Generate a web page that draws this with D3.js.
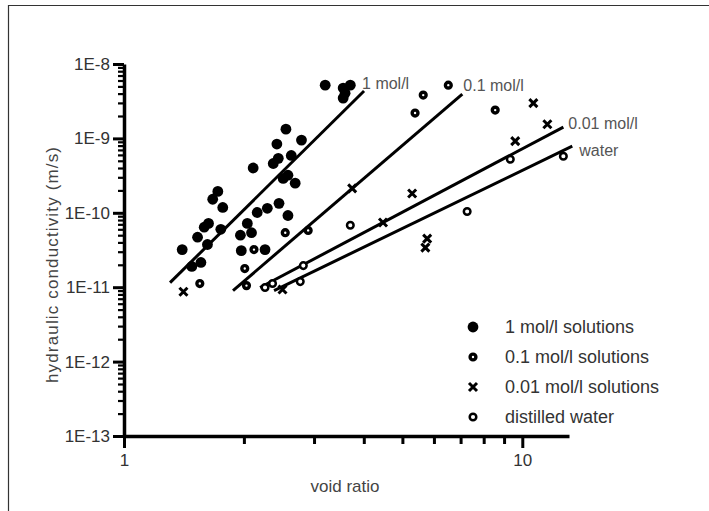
<!DOCTYPE html>
<html><head><meta charset="utf-8">
<script src="https://cdn.jsdelivr.net/npm/d3@7"></script>
<style>body{margin:0;background:#fff}</style>
</head><body><svg id="c" width="709" height="511"></svg>
<script>
// ---------- data (void ratio, hydraulic conductivity m/s) ----------
const xTickValues = [1, 10];
const xTickLabels = ["1", "10"];
const yTickValues = [1e-8, 1e-9, 1e-10, 1e-11, 1e-12, 1e-13];
const yTickLabels = ["1E-8", "1E-9", "1E-10", "1E-11", "1E-12", "1E-13"];
const seriesNames = ["1 mol/l solutions", "0.1 mol/l solutions", "0.01 mol/l solutions", "distilled water"];
const lineLabels = ["1 mol/l", "0.1 mol/l", "0.01 mol/l", "water"];

const mol1 = [
  [1.40, 3.2e-11], [1.48, 1.9e-11], [1.56, 2.15e-11], [1.53, 4.7e-11], [1.59, 6.4e-11],
  [1.63, 7.2e-11], [1.62, 3.75e-11], [1.67, 1.52e-10], [1.72, 1.94e-10], [1.77, 1.18e-10],
  [1.75, 6.0e-11], [1.96, 5.0e-11], [1.97, 3.1e-11], [2.04, 7.2e-11], [2.09, 5.4e-11],
  [2.16, 1.01e-10], [2.26, 3.2e-11], [2.29, 1.15e-10], [2.45, 1.34e-10], [2.58, 9.2e-11],
  [2.11, 4.0e-10], [2.37, 4.6e-10], [2.44, 5.4e-10], [2.42, 8.4e-10], [2.55, 1.33e-9],
  [2.79, 9.5e-10], [2.63, 5.9e-10], [2.51, 2.9e-10], [2.58, 3.2e-10], [2.69, 2.5e-10],
  [3.20, 5.2e-9], [3.55, 4.75e-9], [3.70, 5.2e-9], [3.59, 4.06e-9], [3.55, 3.48e-9]
];
const mol01 = [
  [1.55, 1.12e-11], [2.01, 1.78e-11], [2.03, 1.05e-11], [2.12, 3.2e-11], [2.54, 5.4e-11],
  [2.90, 5.8e-11], [5.38, 2.19e-9], [5.64, 3.82e-9], [6.52, 5.2e-9], [8.55, 2.4e-9]
];
const mol001 = [
  [1.41, 8.7e-12], [2.50, 9.3e-12], [3.74, 2.13e-10], [4.47, 7.4e-11], [5.29, 1.82e-10],
  [5.77, 4.5e-11], [5.71, 3.4e-11], [9.60, 9.2e-10], [10.66, 2.98e-9], [11.56, 1.55e-9]
];
const water = [
  [2.26, 9.9e-12], [2.36, 1.12e-11], [2.77, 1.19e-11], [2.82, 1.95e-11], [3.70, 6.8e-11],
  [7.27, 1.04e-10], [9.33, 5.25e-10], [12.68, 5.75e-10]
];
// fitted regression lines: [start, end]
const fit1 = [[1.305, 1.15e-11], [4.006, 4.33e-9]];
const fit01 = [[1.878, 9.0e-12], [7.07, 3.94e-9]];
const fit001 = [[2.196, 9.9e-12], [12.68, 1.42e-9]];
const fitWater = [[2.381, 9.0e-12], [13.35, 7.85e-10]];

// ---------- layout ----------
const svg = d3.select("#c");
const FONT = "'Liberation Sans', Arial, Helvetica, sans-serif";
const x = d3.scaleLog().domain([1, 13.1]).range([124, 569]);
const y = d3.scaleLog().domain([1e-13, 1e-8]).range([436, 64]);

// frame
svg.append("path").attr("d", "M8.5,511 V5.5 H709").attr("fill", "none")
  .attr("stroke", "#333").attr("stroke-width", 1.2);

// minor ticks
const yMinor = [];
for (let d = -13; d < -8; d++) for (let m = 2; m <= 9; m++) yMinor.push(m * Math.pow(10, d));
const xMinor = [2, 3, 4, 5, 6, 7, 8, 9];

const axG = svg.append("g");
// y axis
const yAxis = d3.axisLeft(y).tickValues(yTickValues).tickSize(11).tickSizeOuter(0)
  .tickFormat((d, i) => yTickLabels[i]);
const ya = axG.append("g").attr("transform", `translate(${x(1)},0)`).call(yAxis);
ya.select(".domain").attr("stroke", "#000").attr("stroke-width", 3.5);
ya.selectAll(".tick line").attr("stroke", "#000").attr("stroke-width", 3);
ya.selectAll(".tick text").attr("font-family", FONT).attr("font-size", 17)
  .attr("fill", "#333").attr("x", -14);
const yam = axG.append("g").attr("transform", `translate(${x(1)},0)`)
  .call(d3.axisLeft(y).tickValues(yMinor).tickSize(6).tickFormat(""));
yam.select(".domain").remove();
yam.selectAll(".tick line").attr("stroke", "#000").attr("stroke-width", 2.2);

// x axis
const xAxis = d3.axisBottom(x).tickValues(xTickValues).tickSize(12).tickSizeOuter(0)
  .tickFormat((d, i) => xTickLabels[i]);
const xa = axG.append("g").attr("transform", `translate(0,${y(1e-13)})`).call(xAxis);
xa.select(".domain").attr("stroke", "#000").attr("stroke-width", 3.5);
xa.selectAll(".tick line").attr("stroke", "#000").attr("stroke-width", 3);
xa.selectAll(".tick text").attr("font-family", FONT).attr("font-size", 17)
  .attr("fill", "#333").attr("y", 18);
const xam = axG.append("g").attr("transform", `translate(0,${y(1e-13)})`)
  .call(d3.axisBottom(x).tickValues(xMinor).tickSize(8).tickFormat(""));
xam.select(".domain").remove();
xam.selectAll(".tick line").attr("stroke", "#000").attr("stroke-width", 3);

// axis titles
svg.append("text").attr("x", 345).attr("y", 492).attr("text-anchor", "middle")
  .attr("font-family", FONT).attr("font-size", 17).attr("fill", "#444").text("void ratio");
svg.append("text").attr("transform", "translate(58,265) rotate(-90)").attr("text-anchor", "middle")
  .attr("font-family", FONT).attr("font-size", 17).attr("fill", "#444")
  .attr("textLength", 236).attr("lengthAdjust", "spacing")
  .text("hydraulic conductivity (m/s)");

// regression lines
const fits = [fit1, fit01, fit001, fitWater];
const labelOffsets = [[-2, -2], [1, -3], [5, 1.5], [7, 10]];
const line = d3.line().x(d => x(d[0])).y(d => y(d[1]));
fits.forEach((f, i) => {
  svg.append("path").attr("d", line(f)).attr("stroke", "#000").attr("stroke-width", 3)
    .attr("fill", "none");
  svg.append("text").attr("x", x(f[1][0]) + labelOffsets[i][0]).attr("y", y(f[1][1]) + labelOffsets[i][1])
    .attr("font-family", FONT).attr("font-size", 16).attr("fill", "#555").text(lineLabels[i]);
});

// markers
function drawMarker(g, type) {
  if (type === 0) g.append("circle").attr("r", 5.4).attr("fill", "#000");
  else if (type === 1) g.append("circle").attr("r", 2.9).attr("fill", "#fff").attr("stroke", "#000").attr("stroke-width", 3.4);
  else if (type === 2) g.append("path").attr("d", "M-4,-4L4,4M-4,4L4,-4").attr("stroke", "#000").attr("stroke-width", 3).attr("fill", "none");
  else g.append("circle").attr("r", 3.3).attr("fill", "#fff").attr("stroke", "#000").attr("stroke-width", 2.5);
}
const allSeries = [mol1, mol01, mol001, water];
allSeries.forEach((s, i) => {
  svg.append("g").selectAll("g").data(s).join("g")
    .attr("transform", d => `translate(${x(d[0])},${y(d[1])})`)
    .each(function () { drawMarker(d3.select(this), i); });
});

// legend
seriesNames.forEach((n, i) => {
  const gy = 327 + i * 30;
  const g = svg.append("g").attr("transform", `translate(473,${gy})`);
  drawMarker(g, i);
  svg.append("text").attr("x", 505).attr("y", gy).attr("dy", "0.35em")
    .attr("font-family", FONT).attr("font-size", 18).attr("fill", "#333").text(n);
});
</script></body></html>
